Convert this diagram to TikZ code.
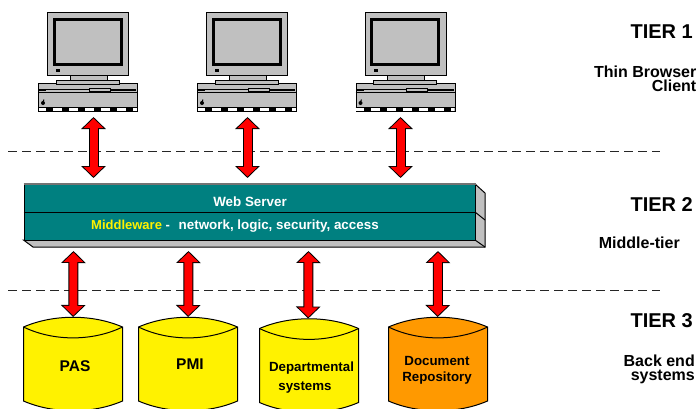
\documentclass[tikz,border=0pt]{standalone}
\usepackage{fontspec}
\setmainfont{Liberation Sans}
\usetikzlibrary{arrows.meta}
\definecolor{pcgrey}{HTML}{C0C0C0}
\definecolor{boxteal}{HTML}{008080}
\definecolor{drumorange}{HTML}{FF9900}
\protected\def\fs#1#2{\fontsize{#1}{#2}\selectfont\bfseries}
\tikzset{
  x=1pt,y=-1pt,
  px/.style={line width=1pt,draw=black},
  pcdesk/.style={px,fill=pcgrey,rectangle,inner sep=0pt,minimum width=99pt,minimum height=28pt,anchor=north west},
  frontbox/.style={draw=black,line width=1pt,fill=boxteal,rectangle,inner sep=0pt,minimum width=451.5pt,minimum height=56pt,anchor=north west},
  drumbox/.style={rectangle,inner sep=0pt,minimum width=99pt,minimum height=91pt,anchor=north west},
  separator/.style={line width=1pt,dash pattern=on 9pt off 5pt,draw=black!85},
  linkout/.style={line width=10pt,draw=black,{Triangle[width=24pt,length=12pt]}-{Triangle[width=24pt,length=12pt]}},
  linkin/.style={line width=8pt,draw=red,shorten <=1.4pt,shorten >=1.4pt,{Triangle[width=19.5pt,length=9.7pt]}-{Triangle[width=19.5pt,length=9.7pt]}},
  tiertitle/.style={anchor=east,inner sep=0pt,font=\fs{20}{20}},
  tiernote/.style={anchor=east,inner sep=0pt,align=right,font=\fs{16}{14}},
  pics/desktop/.style={code={
    \draw[px,fill=pcgrey] (32,-8) rectangle (69,-2);
    \draw[px,fill=pcgrey] (18,-3) rectangle (81,1);
    \draw[px,fill=pcgrey] (9.5,-71) rectangle (90.5,-8);
    \draw[line width=3pt,draw=black,fill=pcgrey] (16,-64) rectangle (83,-19);
    \fill (18,-14) rectangle (22,-11);
    \fill (1,5.5) rectangle (8,8);
    \draw[line width=.7pt] (8,6.5) -- (51,6.5);
    \draw[line width=.7pt] (51,5.5) rectangle (72,8);
    \fill (72,5.5) rectangle (98,8);
    \draw[line width=1pt] (0,9.8) -- (99,9.8);
    \fill (5,20) circle (2pt);
    \draw[line width=1pt] (6,16.5) -- (5,19);
    \fill[white] (0.5,24) rectangle (98.5,28);
    \draw[line width=1pt] (0,24) -- (99,24);
    \foreach \k in {0,...,5} \fill (8+16*\k,24) rectangle (15+16*\k,28);
  }},
  pics/drumbody/.style={code={
    \draw[px,fill=#1] (0,0) .. controls (30,-13) and (69,-13) .. (99,0)
      -- (99,74) .. controls (69,87) and (30,87) .. (0,74) -- cycle;
    \draw[px] (0,0) .. controls (30,14.5) and (69,14.5) .. (99,0);
  }}
}
\begin{document}
\begin{tikzpicture}
\useasboundingbox (0,0) rectangle (698,408);
\fill[white] (0,0) rectangle (698,408);

\coordinate (sepAl) at (8,151);
\coordinate (sepAr) at (660,151);
\coordinate (sepBl) at (8,290);
\coordinate (sepBr) at (660,290);
\draw[separator] (sepAl) -- (sepAr);
\draw[separator] (sepBl) -- (sepBr);

\node[pcdesk] (pc1) at (38,83) {};
\pic at (pc1.north west) {desktop};
\node[pcdesk] (pc2) at (197,83) {};
\pic at (pc2.north west) {desktop};
\node[pcdesk] (pc3) at (355.5,83) {};
\pic at (pc3.north west) {desktop};

\draw[px,fill=pcgrey] (475,184) -- (485,193) -- (485,247) -- (33,247) -- (23.5,240) -- (475,240) -- cycle;
\draw[px] (475,212) -- (485,220);
\draw[px] (475,240) -- (485,247);
\node[frontbox] (server) at (23.5,184) {};
\draw[line width=1pt] (server.west) -- (server.east);
\draw[line width=1.5pt,draw=black!55] (server.north west) -- (server.north east);
\node[text=white,inner sep=0pt,font=\fs{13.4}{14}] (web) at (250,202) {Web Server};
\node[text=white,inner sep=0pt,anchor=west,font=\fs{13}{14}] (mid) at (91,226) {\textcolor{yellow}{Middleware} -\ \ \hspace{1.5pt}{\fontsize{13.4}{14}\selectfont network, logic, security, access}};

\node[drumbox] (pas) at (23.5,327) {};
\pic at (pas.north west) {drumbody=yellow};
\node[drumbox] (pmi) at (138.5,327) {};
\pic at (pmi.north west) {drumbody=yellow};
\node[drumbox] (dep) at (259.5,328.5) {};
\pic at (dep.north west) {drumbody=yellow};
\node[drumbox] (doc) at (388.5,327) {};
\pic at (doc.north west) {drumbody=drumorange};
\node[inner sep=0pt,font=\fs{15.5}{16}] (pasl) at (75,366) {PAS};
\node[inner sep=0pt,font=\fs{15.5}{16}] (pmil) at (190,364) {PMI};
\node[inner sep=0pt,align=center,font=\fs{13.3}{19}] (depl) at (311.5,377.5) {Departmental\\systems\hspace*{13pt}};
\node[inner sep=0pt,align=center,font=\fs{13.3}{16}] (docl) at (437,370) {Document\\Repository};

\foreach \a/\sa/\sb in {pc1/5.5/-156.25, pc2/0.5/-2.25, pc3/-5/150.75}{
  \draw[linkout] ([xshift=\sa pt,yshift=-5pt]\a.south) -- ([xshift=\sb pt,yshift=6pt]server.north);
  \draw[linkin] ([xshift=\sa pt,yshift=-5pt]\a.south) -- ([xshift=\sb pt,yshift=6pt]server.north);
}
\foreach \b/\sa/\sb in {pas/-176.25/0, pmi/-61.25/0, dep/58.75/-1, doc/188.25/-0.5}{
  \draw[linkout] ([xshift=\sa pt,yshift=-10pt]server.south) -- ([xshift=\sb pt,yshift=10pt]\b.north);
  \draw[linkin] ([xshift=\sa pt,yshift=-10pt]server.south) -- ([xshift=\sb pt,yshift=10pt]\b.north);
}

\node[tiertitle] (t1) at (693,32) {TIER 1};
\node[tiertitle] (t2) at (693,205) {TIER 2};
\node[tiertitle] (t3) at (693,321) {TIER 3};
\node[tiernote] (n1) at (696.5,78.5) {Thin Browser\\Client};
\node[tiernote] (n2) at (680,243) {Middle-tier};
\node[tiernote] (n3) at (695,369) {Back end\\systems};
\end{tikzpicture}
\end{document}
